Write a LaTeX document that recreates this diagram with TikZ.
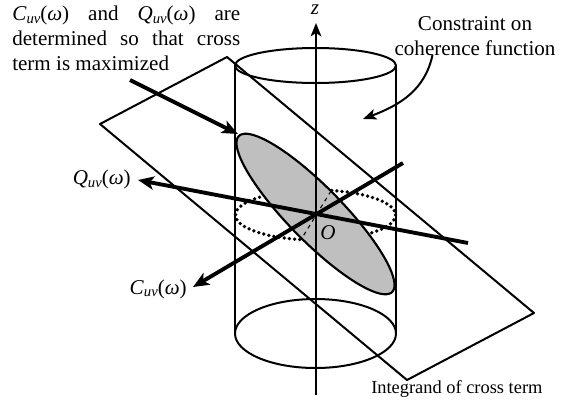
\documentclass[tikz,border=0pt]{standalone}
\usepackage{fontspec}
\setmainfont{Liberation Serif}
\usetikzlibrary{arrows.meta}
\newcommand{\subuv}{\raisebox{-.3ex}{\fontsize{11}{12}\selectfont\textit{uv}}}
\newcommand{\cuvw}{\textit{C}\subuv(\textit{ω})}
\newcommand{\quvw}{\textit{Q}\subuv(\textit{ω})}
\tikzset{
  lab/.style={inner sep=0pt,font=\fontsize{15.8}{18.5}\selectfont},
  thinline/.style={line width=1.5pt,line join=round},
  boldaxis/.style={line width=2.9pt,-{Stealth[length=12pt,width=10pt,inset=3pt]}},
  plainarrow/.style={line width=1.5pt,-{Stealth[length=10pt,width=8pt,inset=2.5pt]}},
}
\begin{document}
\begin{tikzpicture}[x=0.75pt,y=-0.75pt]
\useasboundingbox (0,0) rectangle (564,401);
% plane
\coordinate (pa) at (100,124);
\coordinate (pb) at (227,57);
\coordinate (pc) at (534,313);
\coordinate (pd) at (407,380);
\draw[thinline] (pa) -- (pb) -- (pc) -- (pd) -- cycle;
% cylinder
\draw[thinline] (315.5,65.5) ellipse (80.5 and 17.5);
\draw[thinline] (315.5,333.5) ellipse (80.5 and 34.5);
\draw[thinline] (235,65.5) -- (235,333.5);
\draw[thinline] (396,65.5) -- (396,333.5);
% dotted ellipse
\draw[line width=2.8pt,line cap=round,dash pattern=on 0pt off 3.9pt] (315.5,215) ellipse (80 and 25);
% tilted grey ellipse
\draw[line width=1.6pt,fill=black!25] plot[domain=0:360,samples=90,smooth cycle] ({315.5+79*cos(\x)},{214+71*cos(\x)+37.5*sin(\x)});
% dashed diameter
\coordinate (da) at (331,191);
\coordinate (db) at (302,238);
\draw[line width=0.8pt,dashed] (da) -- (db);
% axes
\coordinate (zb) at (316,395);
\coordinate (zt) at (316,23);
\draw[line width=1.6pt,-{Stealth[length=10pt,width=8pt,inset=2.5pt]}] (zb) -- (zt);
\coordinate (qa) at (468,243);
\coordinate (qb) at (138,180);
\draw[boldaxis] (qa) -- (qb);
\coordinate (ca) at (403,163);
\coordinate (cb) at (193,287);
\draw[boldaxis] (ca) -- (cb);
% labels
\node[lab,anchor=north west,text width=171pt,align=justify] (top) at (12,6) {\setlength{\parindent}{0pt}\cuvw{} and \quvw{} are\linebreak determined so that cross\linebreak term is maximized};
\node[lab] (zl) at (315,10) {\textit{z}};
\node[lab,align=center] (con) at (475,36) {Constraint on\\coherence function};
\node[lab,anchor=east] (ql) at (131,179.5) {\quvw};
\node[lab,anchor=east] (cl) at (187,289) {\cuvw};
\node[lab] (ol) at (328,233) {\textit{O}};
\node[lab,anchor=west,font=\fontsize{13.8}{16}\selectfont] (il) at (371,389) {Integrand of cross term};
% pointer arrows
\coordinate (ms) at (130,80);
\coordinate (me) at (238,134);
\draw[boldaxis] (ms) -- (me);
\coordinate (ce) at (363,119);
\draw[plainarrow] (432.5,55) .. controls (425,90) and (400,105) .. (ce);
\end{tikzpicture}
\end{document}
